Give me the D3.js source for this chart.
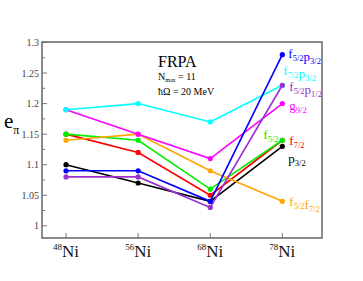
<!DOCTYPE html>
<html>
<head>
<meta charset="utf-8">
<script src="https://cdn.jsdelivr.net/npm/d3@7"></script>
<style>
  body { margin: 0; background: #fff; }
  text { font-family: "Liberation Serif", "DejaVu Serif", serif; }
</style>
</head>
<body>
<div id="chart"></div>
<script>
const width = 363;
const height = 281;

// nuclei along x
const nuclei = ['48', '56', '68', '78'];

// e_pi values per orbital set
const p32 = [1.10, 1.07, 1.04, 1.13];
const f72 = [1.15, 1.12, 1.05, 1.14];
const f52 = [1.15, 1.14, 1.06, 1.14];
const f52f72 = [1.14, 1.15, 1.09, 1.04];
const g92 = [1.19, 1.15, 1.11, 1.20];
const f72p32 = [1.19, 1.20, 1.17, 1.23];
const f52p12 = [1.08, 1.08, 1.03, 1.23];
const f52p32 = [1.09, 1.09, 1.04, 1.28];

const yTicks = [1, 1.05, 1.1, 1.15, 1.2, 1.25, 1.3];

const series = [
  { name: [['p', '3/2']], vals: p32, color: '#000000', dx: 6, dy: 17 },
  { name: [['f', '7/2']], vals: f72, color: '#ff0000', dx: 7, dy: 5 },
  { name: [['f', '5/2']], vals: f52, color: '#00ee00', dx: -19, dy: -1 },
  { name: [['f', '5/2'], ['f', '7/2']], vals: f52f72, color: '#ffa500', dx: 7, dy: 5 },
  { name: [['g', '9/2']], vals: g92, color: '#ff00ff', dx: 7, dy: 6 },
  { name: [['f', '7/2'], ['p', '3/2']], vals: f72p32, color: '#00ffff', dx: 1, dy: -10 },
  { name: [['f', '5/2'], ['p', '1/2']], vals: f52p12, color: '#9b30d0', dx: 7, dy: 6 },
  { name: [['f', '5/2'], ['p', '3/2']], vals: f52p32, color: '#0000ff', dx: 6, dy: 3 }
];

const margin = { left: 42, right: 41, top: 42, bottom: 43 };

const svg = d3.select('#chart')
  .append('svg')
  .attr('width', width)
  .attr('height', height);

const x = d3.scaleLinear()
  .domain([-1 / 3, 3.55])
  .range([margin.left, width - margin.right]);

const y = d3.scaleLinear()
  .domain([0.98, 1.3])
  .range([height - margin.bottom, margin.top + 0.5]);

// y axis ticks (inside)
const yMinor = d3.range(0, 13).map(i => 1 + i * 0.025);
svg.append('g')
  .selectAll('line')
  .data(yMinor)
  .enter()
  .append('line')
  .attr('x1', margin.left)
  .attr('x2', (d, i) => margin.left + (i % 2 === 0 ? 5 : 3))
  .attr('y1', d => y(d))
  .attr('y2', d => y(d))
  .attr('stroke', '#777')
  .attr('stroke-width', 1);

svg.append('g')
  .selectAll('text')
  .data(yTicks)
  .enter()
  .append('text')
  .attr('x', margin.left - 3)
  .attr('y', d => y(d) + 3.5)
  .attr('text-anchor', 'end')
  .attr('font-size', 10)
  .attr('fill', '#444')
  .text(d => d);

// x ticks
svg.append('g')
  .selectAll('line')
  .data(nuclei)
  .enter()
  .append('line')
  .attr('x1', (d, i) => x(i))
  .attr('x2', (d, i) => x(i))
  .attr('y1', height - margin.bottom)
  .attr('y2', height - margin.bottom - 5)
  .attr('stroke', '#777');

const xl = svg.append('g')
  .selectAll('text')
  .data(nuclei)
  .enter()
  .append('text')
  .attr('x', (d, i) => x(i) - 13)
  .attr('y', height - 24)
  .attr('fill', '#111');
xl.append('tspan')
  .attr('font-size', 9)
  .attr('dy', -7)
  .text(d => d);
xl.append('tspan')
  .attr('font-size', 17)
  .attr('dy', 7)
  .text('Ni');

// frame
svg.append('rect')
  .attr('x', margin.left)
  .attr('y', margin.top)
  .attr('width', width - margin.left - margin.right)
  .attr('height', height - margin.top - margin.bottom)
  .attr('fill', 'none')
  .attr('stroke', '#666')
  .attr('stroke-width', 1.5);

// lines
const line = d3.line()
  .x((d, i) => x(i))
  .y(d => y(d));

series.forEach(s => {
  svg.append('path')
    .datum(s.vals)
    .attr('d', line)
    .attr('fill', 'none')
    .attr('stroke', s.color)
    .attr('stroke-width', 1.6);

  svg.append('g')
    .selectAll('circle')
    .data(s.vals)
    .enter()
    .append('circle')
    .attr('cx', (d, i) => x(i))
    .attr('cy', d => y(d))
    .attr('r', 2.6)
    .attr('fill', s.color);

  // label at the 78Ni end
  const t = svg.append('text')
    .attr('x', x(3) + s.dx)
    .attr('y', y(s.vals[3]) + s.dy)
    .attr('fill', s.color)
    .attr('font-size', 13);
  s.name.forEach(part => {
    t.append('tspan').attr('dy', 0).text(part[0]);
    t.append('tspan').attr('font-size', 8.5).attr('dy', 3).text(part[1]);
    t.append('tspan').attr('font-size', 13).attr('dy', -3).text('');
  });
});

// y axis title
const yt = svg.append('text')
  .attr('x', 4)
  .attr('y', 128)
  .attr('font-size', 21)
  .attr('fill', '#000');
yt.append('tspan').text('e');
yt.append('tspan').attr('font-size', 12).attr('dy', 6).text('π');

// annotation
svg.append('text')
  .attr('x', 158)
  .attr('y', 67)
  .attr('font-size', 16)
  .text('FRPA');
const nm = svg.append('text')
  .attr('x', 158)
  .attr('y', 80)
  .attr('font-size', 10);
nm.append('tspan').text('N');
nm.append('tspan').attr('font-size', 6).attr('dy', 2).text('max');
nm.append('tspan').attr('dy', -2).text(' = 11');
svg.append('text')
  .attr('x', 158)
  .attr('y', 95)
  .attr('font-size', 10)
  .text('ħΩ = 20 MeV');
</script>
</body>
</html>
